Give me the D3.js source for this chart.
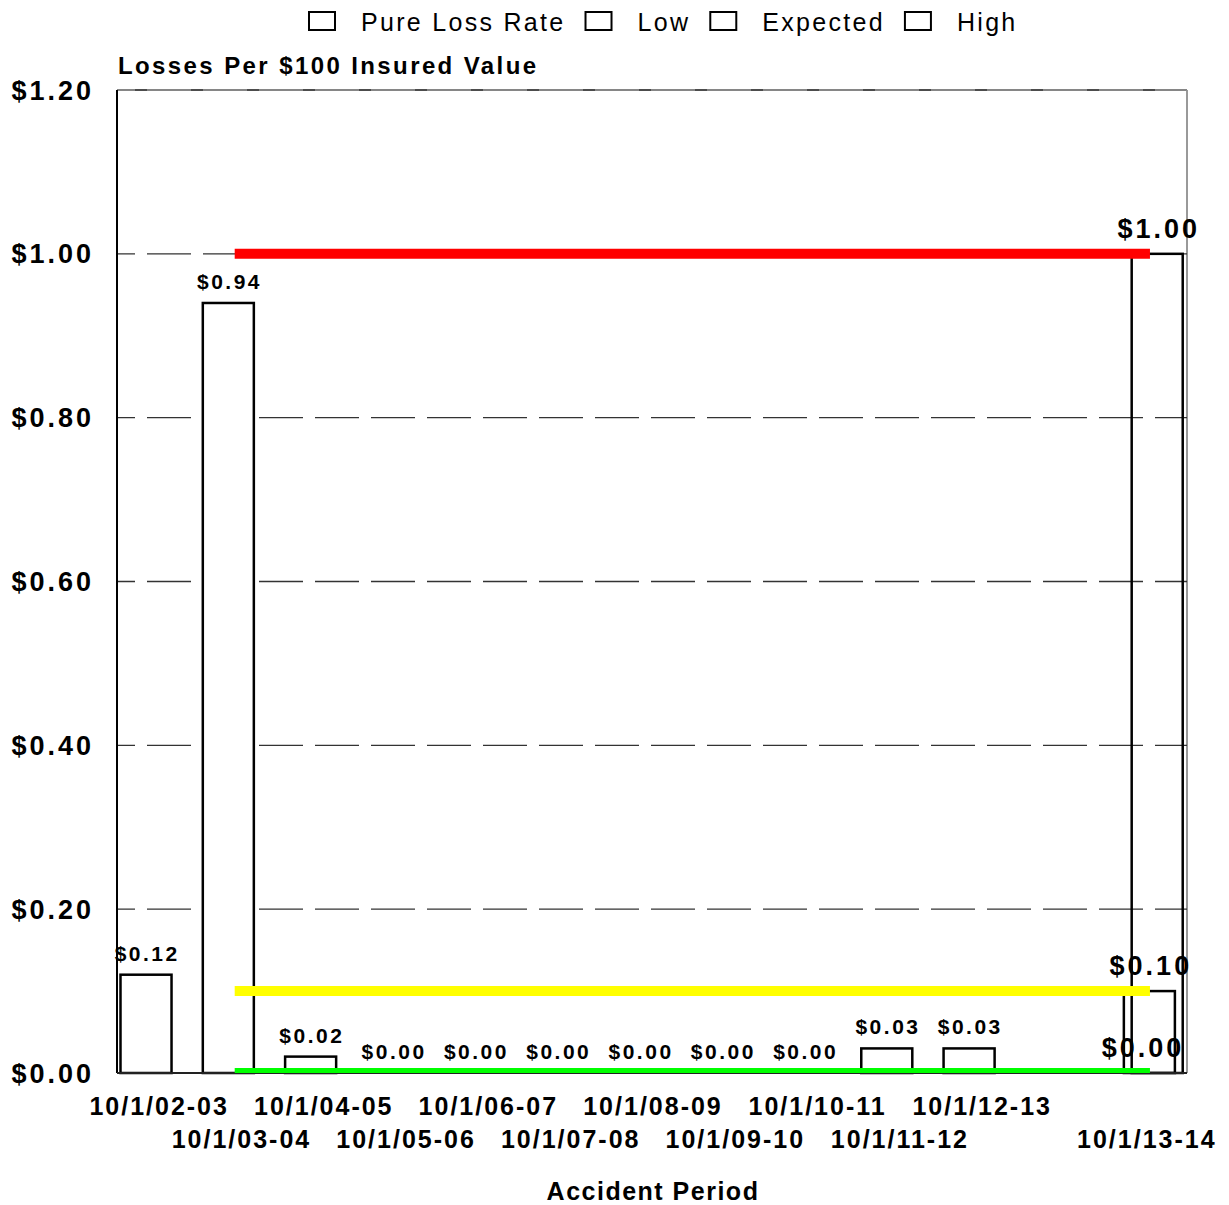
<!DOCTYPE html>
<html>
<head>
<meta charset="utf-8">
<script src="https://cdn.jsdelivr.net/npm/d3@7"></script>
<style>
  html, body { margin: 0; padding: 0; background: #fff; }
  svg { display: block; }
</style>
</head>
<body>
<script>
// ---------------- data ----------------
const categories = ["10/1/02-03","10/1/03-04","10/1/04-05","10/1/05-06","10/1/06-07","10/1/07-08",
                    "10/1/08-09","10/1/09-10","10/1/10-11","10/1/11-12","10/1/12-13","","10/1/13-14"];
const pureLossRate = [0.12, 0.94, 0.02, 0.00, 0.00, 0.00, 0.00, 0.00, 0.00, 0.03, 0.03, null, null];
const lowValues      = [null,null,null,null,null,null,null,null,null,null,null,null, 0.00];
const expectedValues = [null,null,null,null,null,null,null,null,null,null,null,null, 0.10];
const highValues     = [null,null,null,null,null,null,null,null,null,null,null,null, 1.00];
const seriesNames = ["Pure Loss Rate", "Low", "Expected", "High"];
const yTicks = [0, 0.2, 0.4, 0.6, 0.8, 1.0, 1.2];
const refLineValues = [0.00, 0.10, 1.00];   // Low, Expected, High reference lines
const refLineNames  = ["Low", "Expected", "High"];
const refLineSpan   = [1.43, 12.55];        // in category-slot units
const titleText = "Losses Per $100 Insured Value";
const xTitleText = "Accident Period";

// ---------------- layout ----------------
const W = 1229, H = 1205;
const plot = { left: 117, right: 1187, top: 90, bottom: 1073 };
const FONT = "'Liberation Sans', Arial, Helvetica, sans-serif";
const refColors = { Low: "#00ff00", Expected: "#ffff00", High: "#ff0000" };

const svg = d3.select("body").append("svg")
  .attr("width", W).attr("height", H)
  .style("font-family", FONT);

const y = d3.scaleLinear().domain([0, 1.2]).range([plot.bottom, plot.top]);
const x = d3.scaleBand().domain(d3.range(categories.length)).range([plot.left, plot.right]).padding(0);
const bw = x.bandwidth();
const slot = d3.scaleLinear().domain([0, categories.length]).range([plot.left, plot.right]);
const seriesOffset = d3.scaleLinear().domain([0, 3]).range([0.0425 * bw, 0.328 * bw]);
const barW = 0.62 * bw;
const fmt = v => "$" + v.toFixed(2);

// clip
svg.append("defs").append("clipPath").attr("id", "plotClip")
  .append("rect").attr("x", plot.left).attr("y", plot.top)
  .attr("width", plot.right - plot.left).attr("height", plot.bottom - plot.top);

// frame (top/right)
svg.append("line").attr("x1", plot.left).attr("x2", plot.right).attr("y1", plot.top).attr("y2", plot.top)
  .attr("stroke", "#111").attr("stroke-width", 1.5);
svg.append("line").attr("x1", plot.right).attr("x2", plot.right).attr("y1", plot.top).attr("y2", plot.bottom)
  .attr("stroke", "#777").attr("stroke-width", 1.5);

// gridlines
svg.append("g").selectAll("line").data(yTicks.filter(d => d > 0)).join("line")
  .attr("x1", plot.left).attr("x2", plot.right)
  .attr("y1", d => y(d)).attr("y2", d => y(d))
  .attr("stroke", d => d === 1.2 ? "#999" : "#333").attr("stroke-width", 1.3)
  .attr("stroke-dasharray", "44 12").attr("stroke-dashoffset", -30);

// y tick labels
svg.append("g").selectAll("text").data(yTicks).join("text")
  .attr("x", 94).attr("y", d => y(d) + 9.5)
  .attr("text-anchor", "end")
  .attr("font-size", 27).attr("font-weight", "bold").attr("letter-spacing", 3)
  .text(d => fmt(d));

// bars: pure loss rate
const barG = svg.append("g");
const pureData = pureLossRate.map((v, i) => ({ i, v })).filter(d => d.v !== null);
barG.selectAll("rect.pure").data(pureData).join("rect")
  .attr("class", "pure")
  .attr("x", d => x(d.i) + seriesOffset(0))
  .attr("y", d => y(d.v))
  .attr("width", barW)
  .attr("height", d => y(0) - y(d.v))
  .attr("fill", "#fff")
  .attr("stroke", d => d.v === 0 ? "#999" : "#000")
  .attr("stroke-width", 2.5);

// bars: low / expected / high
const otherSeries = [lowValues, expectedValues, highValues];
const otherData = [];
otherSeries.forEach((arr, s) => arr.forEach((v, i) => { if (v !== null) otherData.push({ i, v, s: s + 1 }); }));
barG.selectAll("rect.other").data(otherData).join("rect")
  .attr("class", "other")
  .attr("x", d => x(d.i) + seriesOffset(d.s))
  .attr("y", d => y(d.v))
  .attr("width", barW)
  .attr("height", d => y(0) - y(d.v))
  .attr("fill", "none")
  .attr("stroke", "#000")
  .attr("stroke-width", 2.5);

// axes (left, bottom)
svg.append("line").attr("x1", plot.left).attr("x2", plot.left).attr("y1", plot.top).attr("y2", plot.bottom)
  .attr("stroke", "#000").attr("stroke-width", 2);
svg.append("line").attr("x1", plot.left).attr("x2", plot.right).attr("y1", plot.bottom).attr("y2", plot.bottom)
  .attr("stroke", "#222").attr("stroke-width", 2);

// reference lines
svg.append("g").attr("clip-path", "url(#plotClip)")
  .selectAll("line").data(refLineValues.map((v, k) => ({ v, name: refLineNames[k] }))).join("line")
  .attr("x1", slot(refLineSpan[0])).attr("x2", slot(refLineSpan[1]))
  .attr("y1", d => y(d.v)).attr("y2", d => y(d.v))
  .attr("stroke", d => refColors[d.name]).attr("stroke-width", 10);

// bar value labels
svg.append("g").selectAll("text").data(pureData).join("text")
  .attr("x", d => x(d.i) + seriesOffset(0) + barW / 2 + 1.2)
  .attr("y", d => y(d.v) - 14)
  .attr("text-anchor", "middle")
  .attr("font-size", 21).attr("font-weight", "bold").attr("letter-spacing", 2.5)
  .text(d => fmt(d.v));
svg.append("g").selectAll("text").data(otherData).join("text")
  .attr("x", d => x(d.i) + seriesOffset(d.s) + barW / 2 + 1.5)
  .attr("y", d => y(d.v) - 16)
  .attr("text-anchor", "middle")
  .attr("font-size", 27).attr("font-weight", "bold").attr("letter-spacing", 3)
  .text(d => fmt(d.v));

// x tick labels (staggered)
svg.append("g").selectAll("text").data(categories.map((c, i) => ({ c, i })).filter(d => d.c !== "")).join("text")
  .attr("x", d => x(d.i) + bw / 2 + 1)
  .attr("y", d => {
    const row = d.i === categories.length - 1 ? 1 : d.i % 2;
    return row === 0 ? 1115 : 1148;
  })
  .attr("text-anchor", "middle")
  .attr("font-size", 25).attr("font-weight", "bold").attr("letter-spacing", 2)
  .text(d => d.c);

// axis title
svg.append("text")
  .attr("x", (plot.left + plot.right) / 2 + 1).attr("y", 1200)
  .attr("text-anchor", "middle")
  .attr("font-size", 25).attr("font-weight", "bold").attr("letter-spacing", 1.5)
  .text(xTitleText);

// chart subtitle
svg.append("text")
  .attr("x", 118).attr("y", 74)
  .attr("font-size", 24).attr("font-weight", "bold").attr("letter-spacing", 2.4)
  .text(titleText);

// legend
const leg = svg.append("g");
let lx = 309;
seriesNames.forEach(name => {
  leg.append("rect").attr("x", lx).attr("y", 12).attr("width", 26).attr("height", 18)
    .attr("fill", "#fff").attr("stroke", "#000").attr("stroke-width", 2);
  const t = leg.append("text").attr("x", lx + 52).attr("y", 31)
    .attr("font-size", 25).attr("letter-spacing", 2.3)
    .text(name);
  const w = t.node().getComputedTextLength();
  lx = lx + 52 + w + 20;
});
</script>
</body>
</html>
